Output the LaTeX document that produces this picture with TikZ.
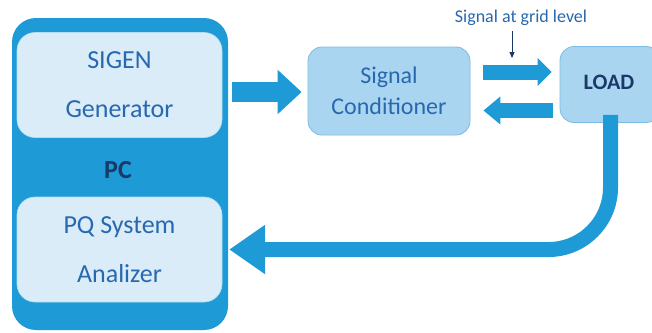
\documentclass[tikz,border=0pt]{standalone}
\usepackage{fontspec}
\setmainfont{Carlito}
\usetikzlibrary{arrows.meta}
\definecolor{mainblue}{RGB}{30,154,214}
\definecolor{paleblue}{RGB}{218,236,248}
\definecolor{midblue}{RGB}{170,213,240}
\definecolor{edgeblue}{RGB}{125,188,228}
\definecolor{textblue}{RGB}{40,104,174}
\definecolor{darkblue}{RGB}{26,56,104}
\tikzset{
  pcbox/.style={draw=none, fill=mainblue, rounded corners=24pt, minimum width=216pt, minimum height=312pt, inner sep=0pt},
  innerbox/.style={draw=paleblue!80!mainblue, line width=0.6pt, fill=paleblue, rounded corners=18pt, minimum width=205pt, minimum height=105pt, inner sep=0pt, align=center, text=textblue, font=\fontsize{26}{49}\selectfont},
  midbox/.style={draw=edgeblue, line width=0.8pt, fill=midblue, rounded corners=14pt, inner sep=0pt, align=center},
  bigarrow/.style={draw=mainblue, line width=#1, line cap=butt},
}
\begin{document}
\begin{tikzpicture}[x=1pt,y=-1pt]
\useasboundingbox (0,0) rectangle (652,332);
\fill[white] (0,0) rectangle (652,332);
% PC block
\node[pcbox] (pc) at (120,174) {};
\node[innerbox] (sigen) at (119.5,85) {SIGEN\\Generator};
\node[innerbox] (pq) at (119.5,249.5) {PQ System\\Analizer};
\node[text=darkblue, font=\fontsize{26}{30}\selectfont\bfseries] (pclabel) at (118,170) {PC};
% Signal conditioner
\node[midbox, minimum width=162pt, minimum height=88pt, text=textblue, font=\fontsize{24}{31}\selectfont] (cond) at (389,91) {Signal\\Conditioner};
% Load
\node[midbox, minimum width=100pt, minimum height=76pt] (load) at (610,84.5) {};
\node[text=darkblue, font=\fontsize{22}{26}\selectfont\bfseries] (loadlabel) at (609,82) {LOAD};
% Signal at grid level
\node[text=textblue, font=\fontsize{18}{20}\selectfont] (grid) at (521,18) {Signal at grid level};
\coordinate (gridtip) at (512,58);
\draw[darkblue, line width=0.9pt, -{Triangle[width=5pt,length=6pt]}] (grid.south -| gridtip) ++(0,2) -- (gridtip);
% arrows
\draw[bigarrow=20pt, -{Triangle[width=43pt,length=24pt]}] ([xshift=4pt]pc.east |- 0,92) -- ([xshift=-6pt]cond.west |- 0,92);
\draw[bigarrow=15pt, -{Triangle[width=27pt,length=14pt]}] ([xshift=13pt]cond.east |- 0,72) -- ([xshift=-8pt]load.west |- 0,72);
\draw[bigarrow=15pt, -{Triangle[width=27pt,length=17pt]}] ([xshift=-7pt]load.west |- 0,110.5) -- ([xshift=13pt]cond.east |- 0,110.5);
\draw[bigarrow=15pt, rounded corners=62pt, -{Triangle[width=47pt,length=36pt]}] ([yshift=8pt]load.south -| 610.5,0) |- ([xshift=1pt]pc.east |- 0,249.5);
\end{tikzpicture}
\end{document}
